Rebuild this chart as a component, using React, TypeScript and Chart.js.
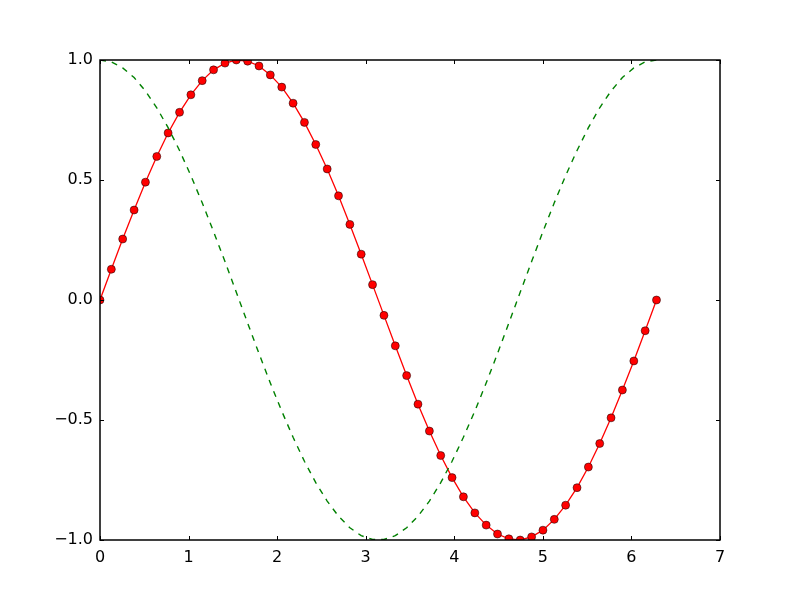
import React, { useEffect, useRef } from "react";
import { Chart, registerables } from "chart.js";

Chart.register(...registerables);

// 50 samples across [0, 2π]
const xValues = [
  0.0, 0.128, 0.256, 0.385, 0.513, 0.641, 0.769, 0.898, 1.026, 1.154,
  1.282, 1.411, 1.539, 1.667, 1.795, 1.923, 2.052, 2.18, 2.308, 2.436,
  2.565, 2.693, 2.821, 2.949, 3.077, 3.206, 3.334, 3.462, 3.59, 3.719,
  3.847, 3.975, 4.103, 4.232, 4.36, 4.488, 4.616, 4.744, 4.873, 5.001,
  5.129, 5.257, 5.386, 5.514, 5.642, 5.77, 5.898, 6.027, 6.155, 6.283,
];

const sinValues = [
  0.0, 0.128, 0.254, 0.375, 0.491, 0.598, 0.696, 0.782, 0.855, 0.914,
  0.959, 0.987, 1.0, 0.995, 0.975, 0.938, 0.887, 0.82, 0.74, 0.648,
  0.546, 0.434, 0.315, 0.191, 0.064, -0.064, -0.191, -0.315, -0.434, -0.546,
  -0.648, -0.74, -0.82, -0.887, -0.938, -0.975, -0.995, -1.0, -0.987, -0.959,
  -0.914, -0.855, -0.782, -0.696, -0.598, -0.491, -0.375, -0.254, -0.128, 0.0,
];

const cosValues = [
  1.0, 0.992, 0.967, 0.927, 0.871, 0.801, 0.718, 0.623, 0.518, 0.405,
  0.285, 0.16, 0.032, -0.096, -0.223, -0.346, -0.463, -0.572, -0.672, -0.761,
  -0.838, -0.901, -0.949, -0.982, -0.998, -0.998, -0.982, -0.949, -0.901, -0.838,
  -0.761, -0.672, -0.572, -0.463, -0.346, -0.223, -0.096, 0.032, 0.16, 0.285,
  0.405, 0.518, 0.623, 0.718, 0.801, 0.871, 0.927, 0.967, 0.992, 1.0,
];

const xTicks = [0, 1, 2, 3, 4, 5, 6, 7];
const yTicks = [-1.0, -0.5, 0.0, 0.5, 1.0];

const FONT = "'DejaVu Sans', sans-serif";

const fmtY = (v: number) => v.toFixed(1).replace("-", "\u2212");

// frame + inward ticks on all four sides, like matplotlib classic
const framePlugin = {
  id: "frame",
  afterDatasetsDraw(chart: any) {
    const { ctx, chartArea: a, scales } = chart;
    const tl = 4;
    ctx.save();
    ctx.strokeStyle = "#000";
    ctx.lineWidth = 1;
    ctx.beginPath();
    xTicks.forEach((t) => {
      const px = Math.round(scales.x.getPixelForValue(t)) + 0.5;
      ctx.moveTo(px, a.bottom);
      ctx.lineTo(px, a.bottom - tl);
      ctx.moveTo(px, a.top);
      ctx.lineTo(px, a.top + tl);
    });
    yTicks.forEach((t) => {
      const py = Math.round(scales.y.getPixelForValue(t)) + 0.5;
      ctx.moveTo(a.left, py);
      ctx.lineTo(a.left + tl, py);
      ctx.moveTo(a.right, py);
      ctx.lineTo(a.right - tl, py);
    });
    ctx.stroke();
    ctx.lineWidth = 1.5;
    ctx.strokeRect(a.left, a.top, a.right - a.left, a.bottom - a.top);
    ctx.restore();
  },
};

const App: React.FC = () => {
  const canvasRef = useRef<HTMLCanvasElement>(null);
  const chartRef = useRef<Chart | null>(null);

  useEffect(() => {
    if (!canvasRef.current) return;
    if (chartRef.current) chartRef.current.destroy();

    chartRef.current = new Chart(canvasRef.current, {
      type: "scatter",
      data: {
        datasets: [
          {
            label: "cos",
            data: xValues.map((x, i) => ({ x, y: cosValues[i] })),
            showLine: true,
            borderColor: "#008000",
            borderWidth: 1.4,
            borderDash: [6, 6],
            pointRadius: 0,
            clip: 0,
          },
          {
            label: "sin",
            data: xValues.map((x, i) => ({ x, y: sinValues[i] })),
            showLine: true,
            borderColor: "#ff0000",
            borderWidth: 1.3,
            pointRadius: 4,
            pointBackgroundColor: "#ff0000",
            pointBorderColor: "#000",
            pointBorderWidth: 0.5,
            clip: 0,
          },
        ],
      },
      options: {
        animation: false,
        responsive: false,
        devicePixelRatio: 1,
        layout: { padding: { top: 60, right: 80, left: 0, bottom: 0 } },
        plugins: {
          legend: { display: false },
          tooltip: { enabled: false },
        },
        scales: {
          x: {
            type: "linear",
            min: 0,
            max: 7,
            afterFit: (s: any) => {
              s.height = 60;
            },
            afterBuildTicks: (s: any) => {
              s.ticks = xTicks.map((v) => ({ value: v }));
            },
            grid: { display: false, drawTicks: false },
            border: { display: false },
            ticks: {
              color: "#000",
              padding: 8,
              font: { family: FONT, size: 16 },
              callback: (v: any) => String(v),
            },
          },
          y: {
            type: "linear",
            min: -1,
            max: 1,
            afterFit: (s: any) => {
              s.width = 100;
            },
            afterBuildTicks: (s: any) => {
              s.ticks = yTicks.map((v) => ({ value: v }));
            },
            grid: { display: false, drawTicks: false },
            border: { display: false },
            ticks: {
              color: "#000",
              padding: 7,
              font: { family: FONT, size: 16 },
              callback: (v: any) => fmtY(Number(v)),
            },
          },
        },
      },
      plugins: [framePlugin],
    });

    return () => {
      if (chartRef.current) {
        chartRef.current.destroy();
        chartRef.current = null;
      }
    };
  }, []);

  return (
    <div style={{ position: "fixed", left: 0, top: 0, width: 800, height: 600, background: "#fff" }}>
      <canvas ref={canvasRef} width={800} height={600} />
    </div>
  );
};

export default App;
